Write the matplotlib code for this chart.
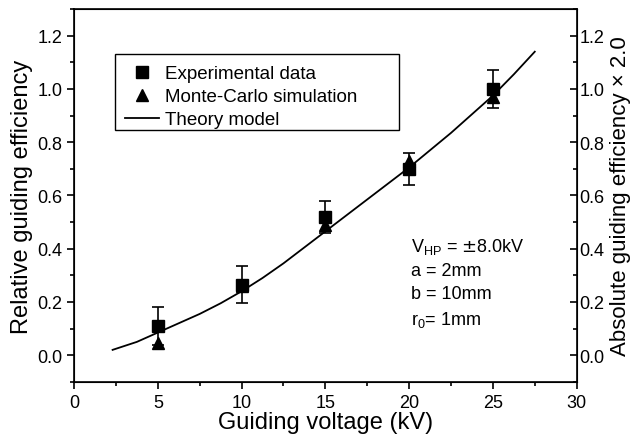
import numpy as np
import matplotlib.pyplot as plt
from matplotlib.patches import Rectangle
from matplotlib.ticker import MultipleLocator

plt.rcParams['font.family'] = ['Liberation Sans', 'DejaVu Sans']

# Experimental data (relative guiding efficiency)
v_exp = [5, 10, 15, 20, 25]
eff_exp = [0.11, 0.265, 0.52, 0.70, 1.00]
err_exp = [0.07, 0.07, 0.06, 0.06, 0.07]

# Monte-Carlo simulation
v_mc = [5, 10, 15, 20, 25]
eff_mc = [0.045, 0.26, 0.49, 0.73, 0.97]

# Theory model
v_th = [2.3, 3.75, 5, 6.25, 7.5, 8.75, 10, 11.25, 12.5, 13.75, 15, 16.25,
        17.5, 18.75, 20, 21.25, 22.5, 23.75, 25, 26.25, 27.5]
eff_th = [0.02, 0.05, 0.085, 0.12, 0.155, 0.195, 0.24, 0.29, 0.345, 0.405,
          0.465, 0.525, 0.585, 0.645, 0.705, 0.77, 0.835, 0.905, 0.975, 1.055, 1.14]

fig = plt.figure(figsize=(6.33, 4.39), dpi=100)
ax = fig.add_axes([0.117, 0.128, 0.794, 0.849])

ax.plot(v_th, eff_th, color='black', lw=1.3, label='Theory model')
ax.errorbar(v_exp, eff_exp, yerr=err_exp, fmt='none', ecolor='black',
            elinewidth=1.2, capsize=4, capthick=1.2)
ax.plot(v_exp, eff_exp, 's', color='black', ms=8, label='Experimental data')
ax.plot(v_mc, eff_mc, '^', color='black', ms=9, label='Monte-Carlo simulation')

ax.set_xlim(0, 30)
ax.set_ylim(-0.1, 1.3)
ax.xaxis.set_major_locator(MultipleLocator(5))
ax.xaxis.set_minor_locator(MultipleLocator(2.5))
ax.yaxis.set_major_locator(MultipleLocator(0.2))
ax.yaxis.set_minor_locator(MultipleLocator(0.1))
ax.yaxis.set_major_formatter(plt.FormatStrFormatter('%.1f'))
ax.tick_params(which='both', direction='out', labelsize=13, width=1.2)
ax.tick_params(which='major', length=5)
ax.tick_params(which='minor', length=3)
for s in ax.spines.values():
    s.set_linewidth(1.2)

ax.set_xlabel('Guiding voltage (kV)', fontsize=17, labelpad=0)
ax.set_ylabel('Relative guiding efficiency', fontsize=17, labelpad=3)

ax2 = ax.twinx()
ax2.set_ylim(-0.1, 1.3)
ax2.yaxis.set_major_locator(MultipleLocator(0.2))
ax2.yaxis.set_minor_locator(MultipleLocator(0.1))
ax2.yaxis.set_major_formatter(plt.FormatStrFormatter('%.1f'))
ax2.tick_params(which='both', direction='in', labelsize=13, width=1.2, pad=2)
ax2.tick_params(which='major', length=5)
ax2.tick_params(which='minor', length=3)
ax2.set_ylabel('Absolute guiding efficiency \u00d7 2.0', fontsize=16, labelpad=4)

# legend box drawn by hand
ax.add_patch(Rectangle((0.0815, 0.676), 0.565, 0.203, transform=ax.transAxes,
                       fill=False, edgecolor='black', lw=1.0, zorder=5))
handles, labels = ax.get_legend_handles_labels()
order = [1, 2, 0]
leg = ax.legend([handles[i] for i in order], [labels[i] for i in order],
                loc='upper left', bbox_to_anchor=(0.09, 0.865), fontsize=13.5,
                frameon=False, borderaxespad=0, borderpad=0.3,
                handlelength=1.8, handletextpad=0.35, labelspacing=0.32)

ax.text(0.670, 0.39, r'V$_{\mathregular{HP}}$ = $\pm$8.0kV' '\n' 'a = 2mm\n' 'b = 10mm\n'
        r'r$_{\mathregular{0}}$= 1mm',
        transform=ax.transAxes, fontsize=13, va='top', ha='left', linespacing=1.45)

fig.savefig('out.png', dpi=100)
